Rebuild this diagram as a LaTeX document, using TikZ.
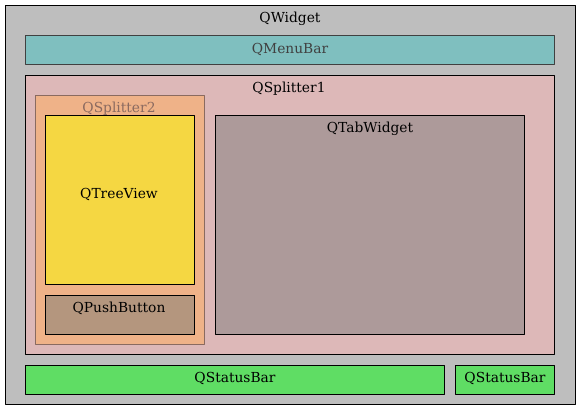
\documentclass[tikz,border=0pt]{standalone}
\usepackage{fontspec}
\setmainfont{DejaVu Serif}
\usepackage{xcolor}
\usetikzlibrary{positioning}
\definecolor{widgetgray}{HTML}{BEBEBE}
\definecolor{menuteal}{HTML}{7FBFBF}
\definecolor{splitrose}{HTML}{DDB8B8}
\definecolor{splitorange}{HTML}{EFB288}
\definecolor{splitbrown}{HTML}{8A6A60}
\definecolor{treeyellow}{HTML}{F5D742}
\definecolor{buttonbrown}{HTML}{B4967E}
\definecolor{tabmauve}{HTML}{AD9A9A}
\definecolor{statusgreen}{HTML}{5FDD64}
\definecolor{menutext}{HTML}{404040}

\begin{document}
\begin{tikzpicture}[x=1pt, y=-1pt, line join=round,
		box/.style={draw, line width=1pt, rectangle, inner sep=0pt, anchor=north west},
		lbl/.style={font=\fontsize{13.8}{15}\selectfont, inner sep=0pt, anchor=base}]
				\useasboundingbox (0,0) rectangle (581,411);
				% outer widget
				\node[box, fill=widgetgray, minimum width=570pt, minimum height=399pt] (qwidget) at (5,5) {};
				\node[lbl] (qwidgettext) at (290,23) {QWidget};
				% menu bar
				\node[box, draw=menutext, fill=menuteal, minimum width=529pt, minimum height=29pt] (qmenubar) at (25,35) {};
				\node[lbl, text=menutext] (qmenubartext) at (290,54) {QMenuBar};
				% splitters
				\node[box, fill=splitrose, minimum width=529pt, minimum height=279pt] (qsplitter1) at (25,75) {};
				\node[lbl] (qsplitter1text) at (289,93) {QSplitter1};
				\node[box, draw=splitbrown, fill=splitorange, minimum width=169pt, minimum height=249pt] (qsplitter2) at (35,95) {};
				\node[lbl, text=splitbrown] (qsplitter2text) at (119,113) {QSplitter2};
				% children
				\node[box, fill=treeyellow, minimum width=149pt, minimum height=169pt] (qtreeview) at (45,115) {};
				\node[lbl] (qtreeviewtext) at (119,199) {QTreeView};
				\node[box, fill=buttonbrown, minimum width=149pt, minimum height=39pt] (qpushbutton) at (45,295) {};
				\node[lbl] (qpushbuttontext) at (119,313) {QPushButton};
				\node[box, fill=tabmauve, minimum width=309pt, minimum height=219pt] (qtabwidget) at (215,115) {};
				\node[lbl] (qtabwidgettext) at (370,133) {QTabWidget};
				% status bars
				\node[box, fill=statusgreen, minimum width=419pt, minimum height=29pt] (qstatusbar1) at (25,365) {};
				\node[lbl] (qstatusbar1text) at (235,383) {QStatusBar};
				\node[box, fill=statusgreen, minimum width=99pt, minimum height=29pt] (qstatusbar2) at (455,365) {};
				\node[lbl] (qstatusbar2text) at (505,383) {QStatusBar};
			\end{tikzpicture}
\end{document}
